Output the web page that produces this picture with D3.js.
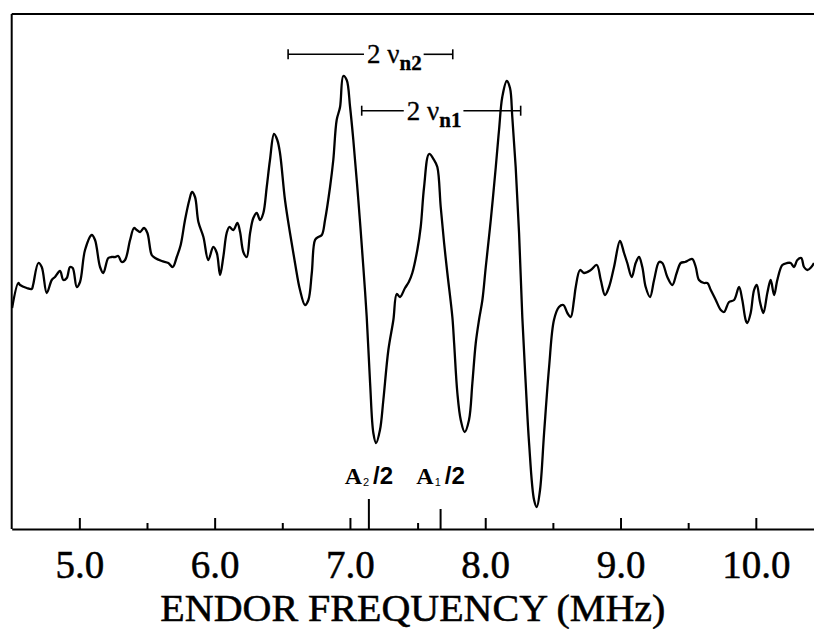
<!DOCTYPE html>
<html><head><meta charset="utf-8">
<script src="https://cdn.jsdelivr.net/npm/d3@7/dist/d3.min.js"></script>
<style>body{margin:0;background:#fff}svg{display:block}</style>
</head><body><svg id="chart" width="814" height="629"></svg>
<script>
// ENDOR spectrum (frequency in MHz, derivative signal in arbitrary units)
const freqMHz = [4.503,4.549,4.562,4.611,4.648,4.658,4.697,4.722,4.759,4.796,4.820,4.857,4.882,4.907,4.931,4.951,4.981,5.005,5.042,5.092,5.116,5.153,5.177,5.214,5.239,5.264,5.288,5.313,5.338,5.375,5.404,5.424,5.449,5.478,5.503,5.535,5.560,5.609,5.658,5.690,5.720,5.749,5.781,5.813,5.833,5.855,5.880,5.917,5.953,5.990,6.016,6.040,6.064,6.089,6.109,6.138,6.168,6.188,6.212,6.237,6.262,6.286,6.311,6.336,6.360,6.385,6.409,6.439,6.463,6.483,6.520,6.557,6.594,6.631,6.668,6.693,6.718,6.742,6.766,6.792,6.816,6.853,6.877,6.902,6.927,6.951,6.976,7.001,7.025,7.062,7.099,7.124,7.149,7.173,7.193,7.222,7.247,7.284,7.321,7.346,7.370,7.407,7.435,7.461,7.498,7.523,7.548,7.585,7.622,7.646,7.671,7.696,7.720,7.757,7.770,7.794,7.819,7.848,7.880,7.905,7.930,7.954,7.979,8.004,8.041,8.078,8.102,8.126,8.159,8.183,8.200,8.225,8.250,8.274,8.299,8.324,8.361,8.381,8.405,8.435,8.472,8.508,8.545,8.577,8.607,8.632,8.656,8.669,8.701,8.730,8.780,8.824,8.854,8.885,8.915,8.952,8.996,9.026,9.050,9.083,9.112,9.137,9.161,9.186,9.218,9.248,9.285,9.309,9.346,9.383,9.415,9.445,9.477,9.506,9.531,9.556,9.580,9.617,9.642,9.667,9.704,9.741,9.765,9.802,9.839,9.876,9.900,9.925,9.937,9.962,9.987,10.007,10.031,10.056,10.085,10.110,10.135,10.159,10.196,10.233,10.258,10.282,10.307,10.336,10.356,10.381,10.410,10.430];
const signal = [-0.08,0.17,0.15,0.12,0.11,0.15,0.37,0.33,0.07,0.20,0.23,0.29,0.20,0.22,0.33,0.32,0.13,0.18,0.50,0.65,0.60,0.33,0.27,0.42,0.43,0.43,0.44,0.38,0.40,0.60,0.72,0.70,0.68,0.72,0.67,0.45,0.42,0.39,0.37,0.33,0.43,0.55,0.80,1.00,1.08,1.03,0.78,0.63,0.40,0.53,0.47,0.25,0.43,0.67,0.73,0.70,0.77,0.68,0.48,0.43,0.67,0.82,0.87,0.80,0.87,1.13,1.40,1.66,1.60,1.47,1.00,0.67,0.37,0.10,-0.05,0.00,0.27,0.60,0.63,0.65,0.80,1.13,1.40,1.80,1.93,2.24,2.20,1.93,1.60,1.00,0.33,-0.17,-0.83,-1.33,-1.43,-1.30,-1.00,-0.50,-0.20,0.06,0.03,0.12,0.18,0.27,0.50,0.73,1.13,1.46,1.40,1.33,0.93,0.57,0.27,-0.17,-0.43,-0.93,-1.20,-1.32,-1.20,-0.83,-0.43,-0.20,0.00,0.33,0.80,1.33,1.70,2.03,2.19,2.12,1.83,1.33,0.67,-0.17,-0.83,-1.43,-2.00,-2.07,-1.90,-1.33,-0.67,-0.20,-0.07,-0.05,-0.13,-0.17,0.00,0.13,0.30,0.27,0.30,0.35,0.20,0.05,0.13,0.33,0.59,0.47,0.37,0.23,0.37,0.43,0.33,0.13,0.03,0.20,0.38,0.37,0.23,0.15,0.27,0.37,0.38,0.40,0.41,0.33,0.20,0.17,0.17,0.10,0.00,-0.10,-0.12,-0.02,0.00,0.13,0.00,-0.20,-0.23,-0.13,0.10,0.15,-0.02,-0.13,0.07,0.20,0.05,0.20,0.35,0.37,0.37,0.33,0.40,0.42,0.33,0.30,0.33,0.37];

const majorTicks = [5, 6, 7, 8, 9, 10];
const tickLabels = ["5.0", "6.0", "7.0", "8.0", "9.0", "10.0"];
const minorTicks = [5.5, 6.5, 7.5, 8.5, 9.5];
const xTitle = "ENDOR FREQUENCY (MHz)";

// hyperfine markers A/2
const markerFreq = [7.14, 7.67];
const markerSub = ["2", "1"];

// 2 nu_n splitting bars
const splitFrom = [6.543, 7.087];
const splitTo = [7.760, 8.262];
const splitLevel = [2.457, 1.893];
const splitTextAt = [7.126, 7.420];
const splitSub = ["n2", "n1"];

const plotLeft = 11.7, plotRight = 814, plotTop = 14, plotBottom = 529;
const SERIF = "'Liberation Serif','Times New Roman',serif";
const SANS = "'Liberation Sans',Arial,sans-serif";

const svg = d3.select("#chart");
const x = d3.scaleLinear().domain([4.5, 10.43]).range([plotLeft, plotRight]);
const y = d3.scaleLinear().domain([-2.29, 2.86]).range([plotBottom, plotTop]);

// frame: left and top lines
svg.append("line").attr("x1", x(4.5)).attr("x2", x(4.5)).attr("y1", plotTop).attr("y2", plotBottom)
  .attr("stroke", "#000").attr("stroke-width", 2);
svg.append("line").attr("x1", x(4.5)).attr("x2", plotRight).attr("y1", plotTop).attr("y2", plotTop)
  .attr("stroke", "#000").attr("stroke-width", 2);

// bottom axis
const gx = svg.append("g").attr("transform", `translate(0,${plotBottom})`)
  .call(d3.axisBottom(x).tickValues(majorTicks).tickSize(-11).tickSizeOuter(0)
    .tickFormat((d, i) => tickLabels[i]));
gx.select(".domain").attr("stroke-width", 2.2);
gx.selectAll(".tick line").attr("stroke-width", 2);
gx.selectAll(".tick text").attr("y", 49).attr("dy", 0)
  .attr("font-family", SERIF).attr("font-size", 39).attr("fill", "#000")
  .attr("stroke", "#000").attr("stroke-width", 0.5);

const gm = svg.append("g").attr("transform", `translate(0,${plotBottom})`)
  .call(d3.axisBottom(x).tickValues(minorTicks).tickSize(-6).tickFormat(""));
gm.select(".domain").remove();
gm.selectAll(".tick line").attr("stroke-width", 2);

svg.append("text").attr("x", (plotLeft + plotRight) / 2).attr("y", 621)
  .attr("text-anchor", "middle").attr("font-family", SERIF).attr("font-size", 37)
  .attr("stroke", "#000").attr("stroke-width", 0.5)
  .attr("textLength", 505).attr("lengthAdjust", "spacingAndGlyphs")
  .text(xTitle);

// spectrum
const line = d3.line().x((d, i) => x(freqMHz[i])).y((d, i) => y(signal[i]))
  .curve(d3.curveCatmullRom.alpha(0.5));
svg.append("path").datum(signal).attr("d", line)
  .attr("fill", "none").attr("stroke", "#000").attr("stroke-width", 2.3)
  .attr("stroke-linejoin", "round");

// A/2 markers
const markerLen = [30, 20];
markerFreq.forEach((f, i) => {
  svg.append("line").attr("x1", x(f)).attr("x2", x(f))
    .attr("y1", plotBottom).attr("y2", plotBottom - markerLen[i])
    .attr("stroke", "#000").attr("stroke-width", 2);
  const t = svg.append("text").attr("x", x(f)).attr("y", 484).attr("text-anchor", "middle")
    .attr("font-size", 24);
  t.append("tspan").attr("font-family", SERIF).attr("font-weight", "bold").text("A");
  t.append("tspan").attr("font-family", SANS).attr("font-size", 11).attr("dy", 2).attr("dx", 1).text(markerSub[i]);
  t.append("tspan").attr("font-family", SANS).attr("font-weight", "bold").attr("dy", -2).attr("dx", 4).text("/2");
});

// 2 nu splitting bars
splitFrom.forEach((f, i) => {
  const yy = y(splitLevel[i]);
  const t = svg.append("text").attr("x", x(splitTextAt[i])).attr("y", yy + 9)
    .attr("font-family", SERIF).attr("font-size", 27).attr("stroke", "#000").attr("stroke-width", 0.3);
  t.append("tspan").text("2 \u03bd");
  t.append("tspan").attr("font-size", 21).attr("font-weight", "bold").attr("dy", 7).text(splitSub[i]);
  const bb = t.node().getBBox();
  const segs = [[x(f), bb.x - 3], [bb.x + bb.width + 2, x(splitTo[i])]];
  segs.forEach(s => svg.append("line").attr("x1", s[0]).attr("x2", s[1]).attr("y1", yy).attr("y2", yy)
    .attr("stroke", "#000").attr("stroke-width", 1.6));
  [x(f), x(splitTo[i])].forEach(xx => svg.append("line").attr("x1", xx).attr("x2", xx)
    .attr("y1", yy - 5).attr("y2", yy + 5).attr("stroke", "#000").attr("stroke-width", 1.6));
});
</script></body></html>
